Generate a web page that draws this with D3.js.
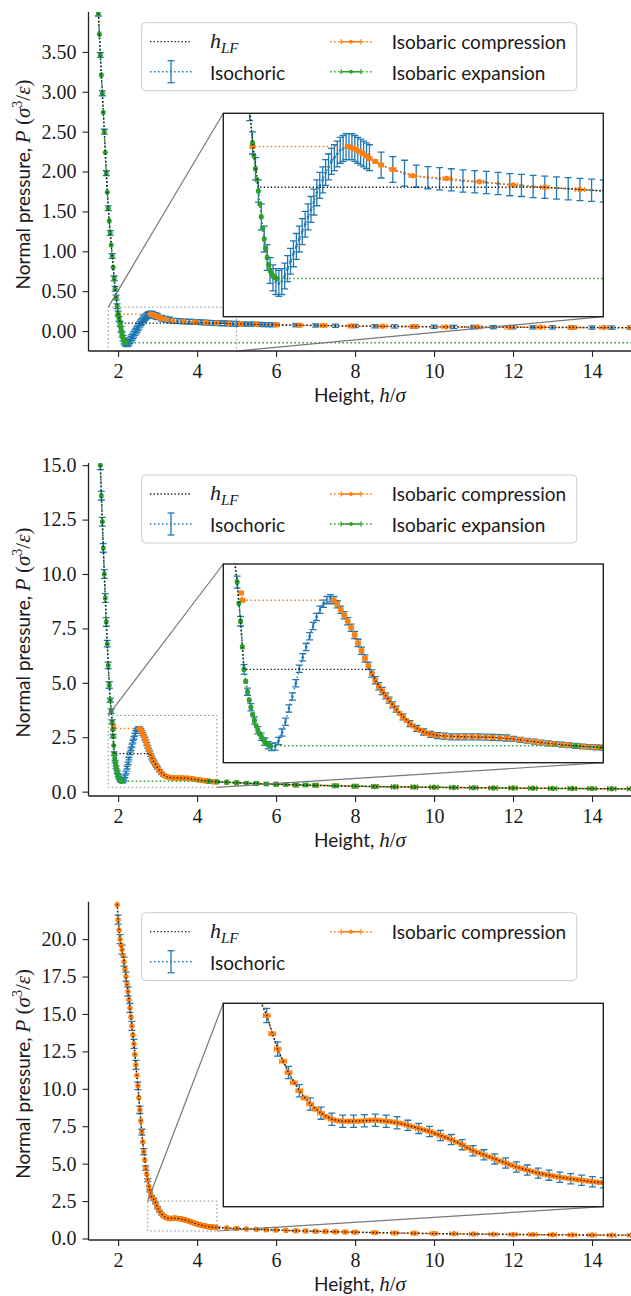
<!DOCTYPE html>
<html>
<head>
<meta charset="UTF-8">
<script src="https://d3js.org/d3.v7.min.js"></script>
<style>
  body { margin: 0; background: #fff; }
  svg text { fill: #1a1a1a; white-space: pre; }
</style>
</head>
<body>
<div id="chart"></div>
<script>
// ---- data: [h, P, err] ----
// panel 1
const hlf1 = [[1.5,3.98],[1.55,3.46],[1.6,2.98],[1.65,2.5],[1.7,1.98],[1.75,1.54],[1.8,1.23],[1.85,.94],[1.9,.66],[1.95,.42],[2,.22],[2.05,.1],[4.5,.1],[5,.09],[6,.078],[7,.07],[8,.063],[9,.058],[10,.054],[11,.05],[12,.048],[13,.046],[14,.044],[15,.042]];
const iso1 = [
  [1.5,3.98,.03],[1.55,3.46,.03],[1.6,2.98,.03],[1.65,2.5,.03],[1.7,1.98,.03],[1.75,1.54,.03],[1.8,1.23,.03],[1.85,.94,.03],[1.9,.66,.03],
  [1.925,.53,.03],[1.95,.42,.03],[1.975,.31,.03],[2,.22,.03],[2.025,.15,.03],[2.05,.09,.03],[2.075,.02,.035],[2.1,-.04,.035],[2.125,-.09,.035],[2.15,-.125,.035],[2.175,-.145,.035],[2.2,-.155,.035],[2.225,-.16,.035],[2.25,-.155,.035],[2.275,-.14,.035],[2.3,-.12,.035],[2.325,-.1,.035],[2.35,-.08,.035],[2.375,-.06,.035],[2.4,-.04,.035],[2.425,-.02,.035],[2.45,0,.035],[2.475,.02,.035],[2.5,.04,.035],[2.525,.06,.035],[2.55,.085,.035],[2.575,.105,.035],[2.6,.12,.035],[2.625,.14,.035],[2.65,.155,.035],[2.675,.17,.035],[2.7,.18,.035],[2.725,.19,.035],[2.75,.2,.035],[2.775,.205,.035],[2.8,.21,.035],[2.825,.21,.035],[2.85,.21,.035],[2.875,.205,.035],[2.9,.2,.035],[2.925,.195,.035],[2.95,.19,.035],[2.975,.185,.035],[3,.18,.035],
  [3.1,.16,.035],[3.2,.148,.035],[3.3,.138,.035],[3.4,.13,.03],[3.5,.126,.03],[3.6,.123,.03],[3.7,.12,.03],[3.8,.117,.03],[3.9,.115,.03],[4,.113,.03],[4.1,.11,.03],[4.2,.107,.03],[4.3,.105,.03],[4.4,.102,.03],[4.5,.1,.03],[4.6,.098,.03],[4.7,.096,.03],[4.8,.094,.03],[4.9,.092,.03],[5,.09,.03],
  [5.1,.089,.025],[5.2,.088,.025],[5.3,.087,.025],[5.4,.086,.025],[5.5,.085,.025],[5.6,.083,.025],[5.7,.081,.025],[5.8,.08,.025],[5.9,.079,.025],[6,.078,.02],
  [6.5,.074,.02],[7,.07,.02],[7.5,.066,.02],[8,.063,.02],[8.5,.06,.02],[9,.058,.02],[9.5,.056,.02],[10,.054,.02],[10.5,.052,.02],[11,.05,.02],[11.5,.049,.02],[12,.048,.02],[12.5,.047,.02],[13,.046,.02],[13.5,.045,.02],[14,.044,.02],[14.5,.043,.02],[15,.042,.02]
];
const comp1 = [
  [15,.042,.1],[14.3,.044,.1],[13.5,.045,.1],[12.7,.047,.1],[11.9,.048,.1],[11.1,.05,.1],[10.3,.053,.1],[9.5,.056,.1],[8.7,.06,.1],[7.9,.064,.08],[7.2,.069,.08],[6.6,.073,.06],[6,.078,.06],[5.5,.085,.05],[5.1,.089,.04],[4.8,.094,.04],[4.5,.1,.035],[4.23,.106,.035],[3.94,.115,.035],[3.66,.124,.03],[3.37,.131,.03],[3.2,.148,.025],[3.1,.16,.02],[3.05,.17,.02],[3,.178,.02],[2.97,.185,.02],[2.94,.192,.02],[2.91,.198,.02],[2.88,.203,.02],[2.85,.207,.02],[2.82,.21,.02],[2,.21,.02]
];
const exp1 = [
  [1.5,3.98,.01],[1.525,3.72,.01],[1.55,3.46,.01],[1.575,3.21,.01],[1.6,2.98,.01],[1.625,2.74,.01],[1.65,2.5,.01],[1.675,2.24,.01],[1.7,1.98,.01],[1.725,1.74,.01],[1.75,1.54,.01],[1.775,1.38,.01],[1.8,1.23,.01],[1.825,1.08,.01],[1.85,.94,.01],[1.875,.8,.01],[1.9,.66,.01],[1.925,.53,.01],[1.95,.42,.01],[1.975,.31,.01],[2,.22,.01],[2.0125,.185,.01],[2.025,.15,.01],[2.0375,.12,.01],[2.05,.09,.01],[2.0625,.055,.01],[2.075,.02,.01],[2.0875,-.01,.01],[2.1,-.04,.01],[2.1125,-.065,.01],[2.125,-.09,.01],[2.1375,-.11,.01],[2.15,-.125,.01],[2.1625,-.133,.01],[2.175,-.14,.01],[2.19,-.144,.01],[2.21,-.147,.01],[16,-.147,.01]
];

// panel 2
const hlf2 = [[1.55,15],[1.6,12.4],[1.65,10],[1.7,7.8],[1.75,5.8],[1.8,4.2],[1.85,3.2],[1.875,2.55],[1.9,1.75],[2.81,1.75],[2.85,1.57],[2.9,1.39],[2.95,1.24],[3,1.09],[3.1,.85],[3.2,.71],[3.3,.65],[3.5,.63],[3.7,.62],[3.9,.58],[4.1,.52],[4.3,.48],[4.5,.45],[5,.41],[6,.34],[7,.29],[8,.25],[9,.22],[10,.2],[11,.18],[12,.165],[13,.15],[14,.14],[15,.13]];
const iso2 = [
  [1.55,15,.2],[1.575,13.6,.2],[1.6,12.4,.2],[1.625,11.2,.2],[1.65,10,.2],[1.675,8.9,.2],[1.7,7.8,.2],[1.725,6.8,.15],[1.75,5.8,.15],[1.775,4.9,.15],[1.8,4.2,.1],[1.825,3.7,.1],[1.85,3.2,.1],[1.875,2.55,.08],[1.9,1.75,.08],[1.925,1.38,.06],[1.95,1.12,.06],[1.975,.9,.06],[2,.74,.06],[2.025,.63,.06],[2.05,.55,.06],[2.075,.49,.06],[2.1,.46,.06],[2.125,.47,.06],[2.15,.56,.06],[2.175,.7,.06],[2.2,.88,.06],[2.225,1.1,.06],[2.25,1.3,.06],[2.275,1.52,.06],[2.3,1.76,.06],[2.325,1.95,.06],[2.35,2.12,.06],[2.375,2.3,.06],[2.4,2.47,.06],[2.425,2.62,.06],[2.45,2.74,.06],[2.475,2.84,.06],[2.5,2.9,.06],[2.525,2.93,.06],[2.55,2.9,.06],[2.575,2.83,.06],[2.6,2.74,.06],[2.625,2.65,.06],[2.65,2.55,.06],[2.675,2.44,.06],[2.7,2.32,.06],[2.725,2.19,.06],[2.75,2.06,.06],[2.775,1.93,.06],[2.8,1.81,.06],[2.825,1.68,.06],[2.85,1.57,.06],[2.875,1.47,.06],[2.9,1.39,.06],[2.925,1.31,.05],[2.95,1.24,.05],[2.975,1.16,.05],[3,1.09,.05],
  [3.05,.96,.05],[3.1,.85,.05],[3.15,.77,.05],[3.2,.71,.05],[3.25,.67,.05],[3.3,.65,.05],[3.35,.64,.05],[3.4,.63,.05],[3.45,.63,.05],[3.5,.63,.05],[3.55,.63,.05],[3.6,.63,.05],[3.65,.625,.05],[3.7,.62,.05],[3.75,.615,.05],[3.8,.61,.05],[3.85,.595,.04],[3.9,.58,.04],[3.95,.565,.04],[4,.55,.04],[4.05,.535,.04],[4.1,.52,.04],[4.15,.51,.04],[4.2,.5,.04],[4.25,.49,.04],[4.3,.48,.04],[4.35,.47,.04],[4.4,.46,.04],[4.45,.455,.04],[4.5,.45,.04],
  [5,.41,.03],[5.5,.37,.03],[6,.34,.03],[6.5,.31,.03],[7,.29,.03],[7.5,.27,.03],[8,.25,.03],[8.5,.235,.03],[9,.22,.03],[9.5,.21,.03],[10,.2,.03],[10.5,.19,.03],[11,.18,.03],[11.5,.172,.03],[12,.165,.03],[12.5,.157,.03],[13,.15,.03],[13.5,.145,.03],[14,.14,.03],[14.5,.135,.03],[15,.13,.03]
];
const comp2 = [
  [15,.13,.1],[14.5,.135,.1],[14,.14,.1],[13.5,.145,.1],[13,.15,.1],[12.5,.157,.1],[12,.165,.1],[11.5,.172,.1],[11,.18,.1],[10.5,.19,.1],[10,.2,.1],[9.5,.21,.08],[9,.22,.08],[8.5,.235,.08],[8,.25,.07],[7.5,.27,.07],[7,.29,.06],[6.5,.31,.06],[6,.34,.05],[5.5,.37,.05],[5,.41,.04],[4.75,.43,.03],[4.5,.45,.02],
  [4.45,.455,.015],[4.4,.46,.015],[4.35,.47,.015],[4.3,.48,.015],[4.25,.49,.015],[4.2,.5,.015],[4.15,.51,.015],[4.1,.52,.015],[4.05,.535,.015],[4,.55,.015],[3.95,.565,.015],[3.9,.58,.015],[3.85,.595,.015],[3.8,.61,.015],[3.75,.615,.015],[3.7,.62,.015],[3.65,.625,.015],[3.6,.63,.015],[3.55,.63,.015],[3.5,.63,.015],[3.45,.63,.015],[3.4,.63,.015],[3.35,.64,.015],[3.3,.65,.015],
  [3.275,.66,.015],[3.25,.67,.015],[3.225,.69,.015],[3.2,.71,.015],[3.175,.74,.015],[3.15,.77,.015],[3.125,.81,.015],[3.1,.85,.015],[3.075,.9,.015],[3.05,.96,.015],[3.025,1.02,.015],[3,1.09,.015],[2.975,1.16,.015],[2.95,1.24,.015],[2.925,1.31,.015],[2.9,1.39,.015],[2.875,1.47,.015],[2.85,1.57,.015],[2.825,1.68,.015],[2.8,1.81,.015],[2.775,1.93,.015],[2.75,2.06,.015],[2.725,2.19,.015],[2.7,2.32,.015],[2.675,2.44,.015],[2.65,2.55,.015],[2.625,2.65,.015],[2.6,2.74,.015],[2.575,2.83,.015],[2.55,2.9,.015],
  [1.89,2.9,.015],[1.88,3.02,.015]
];
const exp2 = [
  [1.55,15,.01],[1.575,13.6,.01],[1.6,12.4,.01],[1.625,11.2,.01],[1.65,10,.01],[1.675,8.9,.01],[1.7,7.8,.01],[1.725,6.8,.01],[1.75,5.8,.01],[1.775,4.9,.01],[1.8,4.2,.01],[1.825,3.7,.01],[1.85,3.2,.01],[1.8625,2.85,.01],[1.875,2.55,.01],[1.8875,2.12,.01],[1.9,1.75,.01],[1.9125,1.55,.01],[1.925,1.38,.01],[1.9375,1.24,.01],[1.95,1.12,.01],[1.9625,1.0,.01],[1.975,.9,.01],[1.9875,.81,.01],[2,.74,.01],[2.0125,.68,.01],[2.025,.63,.01],[2.0375,.59,.01],[2.05,.55,.01],[2.0625,.52,.01],[2.075,.5,.01],[2.09,.48,.01],
  [4.3,.48,.03],[4.5,.45,.03],[4.75,.43,.04],[5,.41,.04],[5.25,.39,.04],[5.5,.37,.05],[5.75,.355,.05],[6,.34,.05],[6.25,.325,.05],[6.5,.31,.06],[6.75,.3,.06],[7,.29,.06],[7.5,.27,.07],[8,.25,.07],[8.5,.235,.08],[9,.22,.08],[9.5,.21,.08],[10,.2,.1],[10.5,.19,.1],[11,.18,.1],[11.5,.172,.1],[12,.165,.1],[12.5,.157,.1],[13,.15,.1],[13.5,.145,.1],[14,.14,.1],[14.5,.135,.1],[15,.13,.1]
];

// panel 3
const hlf3 = [[1.95,23.5],[2,21.3],[2.05,20],[2.1,19.3],[2.15,18.5],[2.2,17.5],[2.25,16.5],[2.3,15.4],[2.35,14.2],[2.4,13],[2.45,11.6],[2.5,10.2],[2.55,8.6],[2.6,7.1],[2.65,5.8],[2.7,4.7],[2.75,3.9],[2.8,3.2],[2.85,2.8],[2.9,2.62],[2.95,2.38],[3,2.05],[3.05,1.82],[3.1,1.64],[3.15,1.51],[3.2,1.42],[3.25,1.36],[3.3,1.34],[3.35,1.34],[3.4,1.345],[3.45,1.35],[3.5,1.34],[3.55,1.325],[3.6,1.3],[3.65,1.27],[3.7,1.24],[3.75,1.2],[3.8,1.16],[3.85,1.11],[3.9,1.05],[3.95,1.01],[4,.97],[4.05,.93],[4.1,.89],[4.15,.86],[4.2,.83],[4.25,.81],[4.3,.79],[4.35,.775],[4.4,.76],[4.45,.745],[4.5,.735],[5,.67],[5.5,.61],[6,.56],[6.5,.52],[7,.48],[8,.42],[9,.37],[10,.33],[11,.3],[12,.27],[13,.25],[14,.23],[15,.22]];
const iso3 = [
  [1.95,23.5,.3],[2,21.3,.3],[2.05,20,.3],[2.1,19.3,.3],[2.15,18.5,.3],[2.2,17.5,.3],[2.25,16.5,.3],[2.3,15.4,.3],[2.35,14.2,.3],[2.4,13,.3],[2.45,11.6,.3],[2.5,10.2,.25],[2.55,8.6,.25],[2.6,7.1,.2],[2.65,5.8,.2],[2.7,4.7,.15],
  [2.75,3.9,.1],[2.8,3.2,.08],[2.85,2.8,.07],[2.9,2.62,.07],[2.95,2.38,.07],[3,2.05,.07],[3.05,1.82,.06],[3.1,1.64,.06],[3.15,1.51,.06],[3.2,1.42,.06],[3.25,1.36,.06],[3.3,1.34,.06],[3.35,1.34,.06],[3.4,1.345,.06],[3.45,1.35,.06],[3.5,1.34,.06],[3.55,1.325,.06],[3.6,1.3,.05],[3.65,1.27,.05],[3.7,1.24,.05],[3.75,1.2,.05],[3.8,1.16,.05],[3.85,1.11,.05],[3.9,1.05,.05],[3.95,1.01,.05],[4,.97,.05],[4.05,.93,.05],[4.1,.89,.05],[4.15,.86,.05],[4.2,.83,.05],[4.25,.81,.05],[4.3,.79,.05],[4.35,.775,.05],[4.4,.76,.05],[4.45,.745,.05],[4.5,.735,.05],
  [5,.67,.04],[5.5,.61,.04],[6,.56,.04],[6.5,.52,.04],[7,.48,.04],[7.5,.45,.04],[8,.42,.04],[8.5,.395,.04],[9,.37,.04],[9.5,.35,.04],[10,.33,.04],[10.5,.315,.04],[11,.3,.04],[11.5,.285,.04],[12,.27,.04],[12.5,.26,.04],[13,.25,.04],[13.5,.24,.04],[14,.23,.04],[14.5,.225,.04],[15,.22,.04]
];
const comp3 = [
  [15,.22,.1],[14.5,.225,.1],[14,.23,.1],[13.5,.24,.1],[13,.25,.1],[12.5,.26,.1],[12,.27,.1],[11.5,.285,.1],[11,.3,.1],[10.5,.315,.1],[10,.33,.08],[9.5,.35,.08],[9,.37,.08],[8.5,.395,.07],[8,.42,.07],[7.75,.435,.06],[7.5,.45,.06],[7.25,.465,.06],[7,.48,.05],[6.75,.5,.05],[6.5,.52,.05],[6.25,.54,.04],[6,.56,.04],[5.75,.585,.04],[5.5,.61,.03],[5.25,.64,.03],[5,.67,.03],[4.75,.7,.02],
  [4.5,.735,.015],[4.475,.74,.015],[4.45,.745,.015],[4.425,.752,.015],[4.4,.76,.015],[4.375,.768,.015],[4.35,.775,.015],[4.325,.782,.015],[4.3,.79,.015],[4.275,.8,.015],[4.25,.81,.015],[4.225,.82,.015],[4.2,.83,.015],[4.175,.845,.015],[4.15,.86,.015],[4.125,.875,.015],[4.1,.89,.015],[4.075,.91,.015],[4.05,.93,.015],[4.025,.95,.015],[4,.97,.015],[3.975,.99,.015],[3.95,1.01,.015],[3.925,1.03,.015],[3.9,1.05,.015],[3.875,1.08,.015],[3.85,1.11,.015],[3.825,1.135,.015],[3.8,1.16,.015],[3.775,1.18,.015],[3.75,1.2,.015],[3.725,1.22,.015],[3.7,1.24,.015],[3.675,1.255,.015],[3.65,1.27,.015],[3.625,1.285,.015],[3.6,1.3,.015],[3.575,1.315,.015],[3.55,1.325,.015],[3.525,1.335,.015],[3.5,1.34,.015],[3.475,1.345,.015],[3.45,1.35,.015],[3.425,1.35,.015],[3.4,1.345,.015],[3.375,1.34,.015],[3.35,1.34,.015],[3.325,1.34,.015],[3.3,1.34,.015],[3.275,1.345,.015],[3.25,1.36,.015],[3.225,1.385,.015],[3.2,1.42,.015],[3.175,1.46,.015],[3.15,1.51,.015],[3.125,1.57,.015],[3.1,1.64,.015],[3.075,1.72,.015],[3.05,1.82,.015],[3.025,1.93,.015],[3,2.05,.015],[2.975,2.2,.015],[2.95,2.38,.015],[2.925,2.52,.015],[2.9,2.62,.015],[2.875,2.7,.015],[2.85,2.8,.015],[2.825,2.98,.015],[2.8,3.2,.015],[2.775,3.5,.015],[2.75,3.9,.015],
  [2.725,4.3,.01],[2.7,4.7,.01],[2.675,5.25,.01],[2.65,5.8,.01],[2.625,6.45,.01],[2.6,7.1,.01],[2.575,7.85,.01],[2.55,8.6,.01],[2.525,9.4,.01],[2.5,10.2,.01],[2.475,10.9,.01],[2.45,11.6,.01],[2.425,12.3,.01],[2.4,13,.01],[2.375,13.6,.01],[2.35,14.2,.01],[2.325,14.8,.01],[2.3,15.4,.01],[2.275,15.95,.01],[2.25,16.5,.01],[2.225,17,.01],[2.2,17.5,.01],[2.175,18,.01],[2.15,18.5,.01],[2.125,18.9,.01],[2.1,19.3,.01],[2.075,19.6,.01],[2.05,20,.01],[2.025,20.6,.01],[2,21.3,.01],[1.975,22.3,.01],[1.95,23.5,.01]
];

const xTicks = [2, 4, 6, 8, 10, 12, 14];
const yTicks1 = [0, 0.5, 1, 1.5, 2, 2.5, 3, 3.5];
const yTicks2 = [0, 2.5, 5, 7.5, 10, 12.5, 15];
const yTicks3 = [0, 2.5, 5, 7.5, 10, 12.5, 15, 17.5, 20];

// ---- layout ----
const W = 631, H = 1296;
const L = 88.5, R = 631.5;
const panels = [
  {top: 12, bottom: 351, yDomain: [-0.25, 4.0], yTicks: yTicks1, fmt: d3.format(".2f"),
   legTop: 22.7, zoomX: [1.75, 5.0], zoomY: [-0.25, 0.3], inset: [223.3, 113.3, 603.3, 316.7],
   hlf: hlf1, iso: iso1, comp: comp1, exp: exp1},
  {top: 463, bottom: 796, yDomain: [-0.2, 15.1], yTicks: yTicks2, fmt: d3.format(".1f"),
   legTop: 475, zoomX: [1.75, 4.5], zoomY: [0.2, 3.5], inset: [223.3, 564, 603.3, 762.7],
   hlf: hlf2, iso: iso2, comp: comp2, exp: exp2},
  {top: 901.7, bottom: 1240, yDomain: [-0.1, 22.5], yTicks: yTicks3, fmt: d3.format(".1f"),
   legTop: 912.7, zoomX: [2.75, 4.5], zoomY: [0.5, 2.5], inset: [223.3, 1003.3, 603.3, 1206.7],
   hlf: hlf3, iso: iso3, comp: comp3, exp: null}
];

const C = {blue: "#1f77b4", orange: "#ff7f0e", green: "#2ca02c", black: "#111"};
const SERIF = "'Liberation Serif', 'DejaVu Serif', serif";
const SANS = "Lato, 'Open Sans', sans-serif";

const svg = d3.select("#chart").append("svg")
  .attr("width", W).attr("height", H)
  .style("background", "#fff");

const x = d3.scaleLinear().domain([1.25, 15]).range([L, R]);

function drawSeries(g, xs, ys, data, s) {
  const line = d3.line().x(d => xs(d[0])).y(d => ys(d[1]));
  const grp = g.append("g");
  if (s.err) {
    const eg = grp.append("g").attr("stroke", s.color).attr("stroke-width", 1.3).attr("fill", "none");
    const cap = s.cap / 2;
    data.forEach(d => {
      const cx = xs(d[0]), cy = ys(d[1]);
      if (s.err === "y") {
        const a = ys(d[1] - d[2]), b = ys(d[1] + d[2]);
        eg.append("line").attr("x1", cx).attr("x2", cx).attr("y1", a).attr("y2", b);
        eg.append("line").attr("x1", cx - cap).attr("x2", cx + cap).attr("y1", a).attr("y2", a);
        eg.append("line").attr("x1", cx - cap).attr("x2", cx + cap).attr("y1", b).attr("y2", b);
      } else {
        const a = xs(d[0] - d[2]), b = xs(d[0] + d[2]);
        eg.append("line").attr("x1", a).attr("x2", b).attr("y1", cy).attr("y2", cy);
        eg.append("line").attr("x1", a).attr("x2", a).attr("y1", cy - cap).attr("y2", cy + cap);
        eg.append("line").attr("x1", b).attr("x2", b).attr("y1", cy - cap).attr("y2", cy + cap);
      }
    });
  }
  grp.append("path").datum(data).attr("d", line)
    .attr("fill", "none").attr("stroke", s.color)
    .attr("stroke-width", s.lw).attr("stroke-dasharray", s.dash);
  if (s.r) {
    grp.append("g").selectAll("circle").data(data).join("circle")
      .attr("cx", d => xs(d[0])).attr("cy", d => ys(d[1])).attr("r", s.r)
      .attr("fill", s.color);
  }
}

const styles = {
  iso: {color: C.blue, lw: 1.5, dash: "1.5,2.5", err: "y", cap: 7, r: 1.3},
  comp: {color: C.orange, lw: 1.5, dash: "1.5,2.5", err: "x", cap: 5, r: 2.7},
  exp: {color: C.green, lw: 1.5, dash: "1.5,2.5", err: "x", cap: 5, r: 2.5},
  hlf: {color: C.black, lw: 1.3, dash: "1.3,2.2"}
};

function drawAll(g, xs, ys, p) {
  drawSeries(g, xs, ys, p.iso, styles.iso);
  drawSeries(g, xs, ys, p.comp, styles.comp);
  if (p.exp) drawSeries(g, xs, ys, p.exp, styles.exp);
  drawSeries(g, xs, ys, p.hlf, styles.hlf);
}

panels.forEach((p, i) => {
  const y = d3.scaleLinear().domain(p.yDomain).range([p.bottom, p.top]);
  const g = svg.append("g");

  const clipId = "clip" + i;
  svg.append("clipPath").attr("id", clipId).append("rect")
    .attr("x", L).attr("y", p.top).attr("width", R - L).attr("height", p.bottom - p.top);
  const plot = g.append("g").attr("clip-path", `url(#${clipId})`);
  drawAll(plot, x, y, p);

  // zoom rectangle and connectors
  const zx0 = x(p.zoomX[0]), zx1 = x(p.zoomX[1]);
  const zy0 = y(p.zoomY[0]), zy1 = y(p.zoomY[1]);
  g.append("rect").attr("x", zx0).attr("y", zy1).attr("width", zx1 - zx0).attr("height", zy0 - zy1)
    .attr("fill", "none").attr("stroke", "#8a8a8a").attr("stroke-width", 1).attr("stroke-dasharray", "1.5,2.5");
  const [ix0, iy0, ix1, iy1] = p.inset;
  g.append("line").attr("x1", zx0).attr("y1", zy1).attr("x2", ix0).attr("y2", iy0)
    .attr("stroke", "#777").attr("stroke-width", 1.2);
  g.append("line").attr("x1", zx1).attr("y1", zy0).attr("x2", ix1).attr("y2", iy1)
    .attr("stroke", "#777").attr("stroke-width", 1.2);

  // inset
  const xi = d3.scaleLinear().domain(p.zoomX).range([ix0, ix1]);
  const yi = d3.scaleLinear().domain(p.zoomY).range([iy1, iy0]);
  const iclip = "iclip" + i;
  svg.append("clipPath").attr("id", iclip).append("rect")
    .attr("x", ix0).attr("y", iy0).attr("width", ix1 - ix0).attr("height", iy1 - iy0);
  g.append("rect").attr("x", ix0).attr("y", iy0).attr("width", ix1 - ix0).attr("height", iy1 - iy0).attr("fill", "#fff");
  const ig = g.append("g").attr("clip-path", `url(#${iclip})`);
  drawAll(ig, xi, yi, p);
  g.append("rect").attr("x", ix0).attr("y", iy0).attr("width", ix1 - ix0).attr("height", iy1 - iy0)
    .attr("fill", "none").attr("stroke", "#222").attr("stroke-width", 1.4);

  // axes (left and bottom spines only)
  const ax = g.append("g").attr("transform", `translate(0,${p.bottom})`)
    .call(d3.axisBottom(x).tickValues(xTicks).tickSize(6).tickPadding(7).tickFormat(d3.format("d")));
  const ay = g.append("g").attr("transform", `translate(${L},0)`)
    .call(d3.axisLeft(y).tickValues(p.yTicks).tickSize(6).tickPadding(6).tickFormat(p.fmt));
  [ax, ay].forEach(a => {
    a.attr("font-family", SERIF).attr("font-size", 20);
    a.select(".domain").attr("stroke", "#222").attr("stroke-width", 1.3);
    a.selectAll(".tick line").attr("stroke", "#222").attr("stroke-width", 1.1);
    a.selectAll(".tick text").attr("font-family", SERIF).attr("font-size", 20).attr("fill", "#1a1a1a");
  });
  ax.select(".domain").attr("d", `M${L},0H${R}`);
  ay.select(".domain").attr("d", `M0,${p.top}V${p.bottom}`);

  // axis labels
  const xl = g.append("text").attr("x", (L + R) / 2).attr("y", p.bottom + 51).attr("text-anchor", "middle");
  xl.append("tspan").attr("font-family", SANS).attr("font-size", 19).text("Height, ");
  xl.append("tspan").attr("font-family", SERIF).attr("font-style", "italic").attr("font-size", 21).text("h");
  xl.append("tspan").attr("font-family", SERIF).attr("font-size", 21).text("/");
  xl.append("tspan").attr("font-family", SERIF).attr("font-style", "italic").attr("font-size", 21).text("σ");

  const yl = g.append("text").attr("text-anchor", "middle")
    .attr("transform", `translate(30,${(p.top + p.bottom) / 2 + 3}) rotate(-90)`);
  yl.append("tspan").attr("font-family", SANS).attr("font-size", 19).text("Normal pressure, ");
  yl.append("tspan").attr("font-family", SERIF).attr("font-style", "italic").attr("font-size", 21).text("P");
  yl.append("tspan").attr("font-family", SERIF).attr("font-size", 21).text(" (");
  yl.append("tspan").attr("font-family", SERIF).attr("font-style", "italic").attr("font-size", 21).text("σ");
  yl.append("tspan").attr("font-family", SERIF).attr("font-size", 14).attr("dy", -8).text("3");
  yl.append("tspan").attr("font-family", SERIF).attr("font-size", 21).attr("dy", 8).text("/");
  yl.append("tspan").attr("font-family", SERIF).attr("font-style", "italic").attr("font-size", 21).text("ε");
  yl.append("tspan").attr("font-family", SERIF).attr("font-size", 21).text(")");

  // legend
  const lt = p.legTop;
  const lg = g.append("g");
  lg.append("rect").attr("x", 141.7).attr("y", lt).attr("width", 435).attr("height", 68).attr("rx", 4)
    .attr("fill", "#fff").attr("fill-opacity", 0.8).attr("stroke", "#cccccc").attr("stroke-width", 1);
  const r1 = lt + 19, r2 = lt + 49;
  const handle = (x0, yy, s) => {
    lg.append("line").attr("x1", x0).attr("x2", x0 + 42).attr("y1", yy).attr("y2", yy)
      .attr("stroke", s.color).attr("stroke-width", s.lw).attr("stroke-dasharray", s.dash);
    const cx = x0 + 21;
    if (s.err === "y") {
      lg.append("line").attr("x1", cx).attr("x2", cx).attr("y1", yy - 11).attr("y2", yy + 11).attr("stroke", s.color).attr("stroke-width", 1.3);
      [yy - 11, yy + 11].forEach(v => lg.append("line").attr("x1", cx - 3.5).attr("x2", cx + 3.5).attr("y1", v).attr("y2", v).attr("stroke", s.color).attr("stroke-width", 1.3));
    } else if (s.err === "x") {
      lg.append("line").attr("x1", cx - 10).attr("x2", cx + 10).attr("y1", yy).attr("y2", yy).attr("stroke", s.color).attr("stroke-width", 1.5);
      [cx - 10, cx + 10].forEach(v => lg.append("line").attr("x1", v).attr("x2", v).attr("y1", yy - 2.5).attr("y2", yy + 2.5).attr("stroke", s.color).attr("stroke-width", 1.3));
      lg.append("circle").attr("cx", cx).attr("cy", yy).attr("r", 2).attr("fill", s.color);
    }
  };
  handle(150, r1, styles.hlf);
  const t1 = lg.append("text").attr("x", 210).attr("y", r1 + 6);
  t1.append("tspan").attr("font-family", SERIF).attr("font-style", "italic").attr("font-size", 22).text("h");
  t1.append("tspan").attr("font-family", SERIF).attr("font-style", "italic").attr("font-size", 15).attr("dy", 5).text("LF");
  handle(150, r2, styles.iso);
  lg.append("text").attr("x", 210).attr("y", r2 + 8).attr("font-family", SANS).attr("font-size", 19).text("Isochoric");
  handle(330, r1, styles.comp);
  lg.append("text").attr("x", 391.7).attr("y", r1 + 7).attr("font-family", SANS).attr("font-size", 19).text("Isobaric compression");
  if (p.exp) {
    handle(330, r2, styles.exp);
    lg.append("text").attr("x", 391.7).attr("y", r2 + 8).attr("font-family", SANS).attr("font-size", 19).text("Isobaric expansion");
  }
});
</script>
</body>
</html>
